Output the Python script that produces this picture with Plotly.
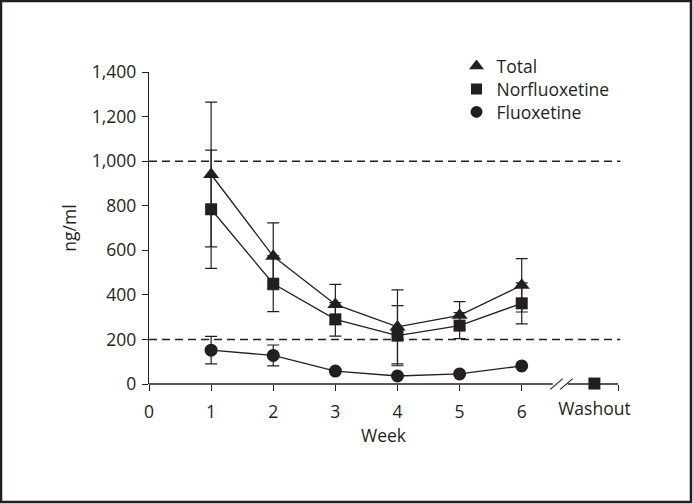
import plotly.graph_objects as go

weeks = [1, 2, 3, 4, 5, 6]
total = [940, 573, 357, 256, 308, 443]
total_err = [325, 150, 90, 166, 62, 120]
norfluoxetine = [784, 450, 290, 217, 262, 362]
norfluoxetine_err = [265, 125, 75, 135, 58, 92]
fluoxetine = [152, 128, 58, 36, 45, 81]
fluoxetine_err = [62, 47, 0, 0, 0, 0]
washout_norfluoxetine = [2]
x_tick_labels = ["0", "1", "2", "3", "4", "5", "6"]
y_ticks = [0, 200, 400, 600, 800, 1000, 1200, 1400]
reference_lines = [200, 1000]
legend_names = ["Total", "Norfluoxetine", "Fluoxetine"]

WASHOUT_X = 7.17
X_END = 7.55
INK = "#231f20"
FONT = "Open Sans"
FS = 17.5
LFS = 17.5

W, H = 693, 504
L, R, T, B = 149, 75, 72, 120
pw, ph = W - L - R, H - T - B

fig = go.Figure()

def series(y, err, symbol, size):
    fig.add_trace(go.Scatter(
        x=weeks, y=y, mode="lines+markers", showlegend=False,
        line=dict(color=INK, width=1.3),
        marker=dict(symbol=symbol, size=size, color=INK),
        error_y=dict(type="data", array=err, visible=True, color=INK, thickness=1.2, width=6),
        cliponaxis=False,
    ))

series(total, total_err, "triangle-up", 14)
series(norfluoxetine, norfluoxetine_err, "square", 12)
series(fluoxetine, fluoxetine_err, "circle", 13)

fig.add_trace(go.Scatter(
    x=[WASHOUT_X], y=washout_norfluoxetine, mode="markers", showlegend=False,
    marker=dict(symbol="square", size=12, color=INK), cliponaxis=False,
))

legend_ids = ["legend", "legend2", "legend3"]
for name, sym, sz, lid in zip(legend_names, ["triangle-up", "square", "circle"], [13, 11, 12], legend_ids):
    fig.add_trace(go.Scatter(x=[None], y=[None], mode="markers", name=name, legend=lid,
                             marker=dict(symbol=sym, size=sz, color=INK)))

# Washout label axis
fig.add_trace(go.Scatter(x=[WASHOUT_X], y=[None], xaxis="x2", showlegend=False))

shapes = []
for v in reference_lines:
    shapes.append(dict(type="line", xref="paper", yref="y", x0=0, x1=1.005, y0=v, y1=v,
                       line=dict(color=INK, width=1.5, dash="8px,5px")))
# broken x axis line
shapes.append(dict(type="line", xref="x", yref="paper", x0=0, x1=6.5, y0=0, y1=0,
                   line=dict(color=INK, width=1.3)))
shapes.append(dict(type="line", xref="x", yref="paper", x0=6.74, x1=X_END, y0=0, y1=0,
                   line=dict(color=INK, width=1.3)))
for cx in [6.56, 6.72]:
    shapes.append(dict(type="line", xref="x", yref="paper", x0=cx - 0.1, x1=cx + 0.1,
                       y0=-0.017, y1=0.017, line=dict(color=INK, width=1.1)))
# outer frame
shapes.append(dict(type="rect", xref="paper", yref="paper",
                   x0=-(L - 1) / pw, x1=(W - 2 - L) / pw,
                   y0=-(B - 2) / ph, y1=1 + (T - 1) / ph,
                   line=dict(color=INK, width=2.5)))

legend_style = dict(xanchor="left", yanchor="middle", bgcolor="rgba(0,0,0,0)",
                    font=dict(size=LFS, family=FONT, color=INK), itemwidth=30)
leg_x = (456.5 - L) / pw
leg_px_y = [66, 89, 112]
legends = {lid: dict(x=leg_x, y=1 - (py - T) / ph, **legend_style) for lid, py in zip(legend_ids, leg_px_y)}

fig.update_layout(
    width=W, height=H,
    margin=dict(l=L, r=R, t=T, b=B),
    paper_bgcolor="white", plot_bgcolor="white",
    font=dict(family=FONT, size=FS, color=INK),
    shapes=shapes,
    showlegend=True,
    **legends,
    xaxis=dict(range=[0, X_END], tickvals=list(range(0, 7)) + [X_END],
               ticktext=x_tick_labels + [""], showline=False, zeroline=False, showgrid=False,
               ticks="outside", ticklen=6, tickwidth=1.3, tickcolor=INK, ticklabelstandoff=6,
               title=dict(text="Week", standoff=2, font=dict(size=FS))),
    xaxis2=dict(range=[0, X_END], overlaying="x", side="bottom", tickvals=[WASHOUT_X],
                ticktext=["Washout"], showline=False, showgrid=False, zeroline=False, ticks="",
                ticklabelstandoff=12),
    yaxis=dict(range=[0, 1400], tickvals=y_ticks, tickformat=",", showline=True,
               linecolor=INK, linewidth=1.3, zeroline=False, showgrid=False,
               ticks="outside", ticklen=6, tickwidth=1.3, tickcolor=INK, ticklabelstandoff=2,
               title=dict(text="ng/ml", standoff=10, font=dict(size=FS))),
)

fig.write_html("out.html", config={"displayModeBar": False},
               post_script="document.body.style.margin='0';")
